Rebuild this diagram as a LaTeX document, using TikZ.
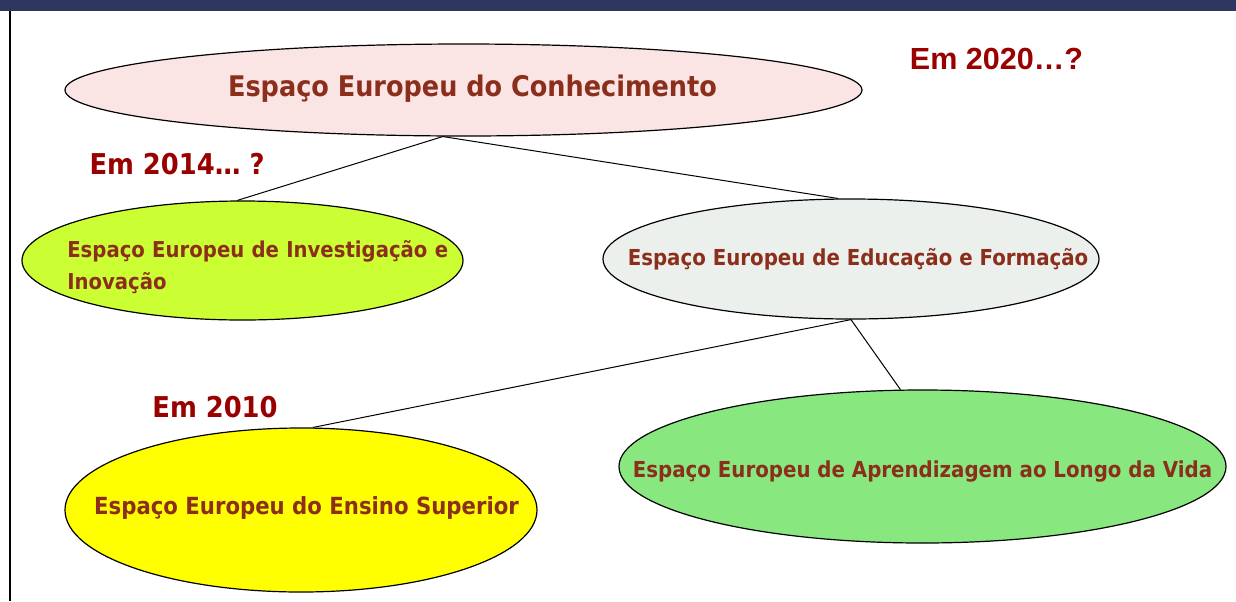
\documentclass[tikz,border=0pt]{standalone}
\usepackage{fontspec}
\setmainfont{DejaVu Sans}
\newfontfamily\tahoma{DejaVu Sans Condensed}
\newfontfamily\arialb{Liberation Sans}
\usetikzlibrary{shapes.geometric}
\definecolor{barblue}{HTML}{2E3760}
\definecolor{yearred}{HTML}{990000}
\definecolor{areared}{HTML}{8B2F1C}
\definecolor{conhecfill}{HTML}{FAE4E4}
\definecolor{investfill}{HTML}{CCFF33}
\definecolor{educfill}{HTML}{ECF0EC}
\definecolor{ensinofill}{HTML}{FFFF00}
\definecolor{aprendfill}{HTML}{89E77F}

\begin{document}
\begin{tikzpicture}[x=0.75pt, y=-0.75pt,
    area/.style={draw, ellipse, line width=0.9pt, inner sep=0pt},
    areatext/.style={text=areared, inner sep=0pt, anchor=base, font=\tahoma\bfseries\fontsize{16.5}{24}\selectfont},
    year/.style={text=yearred, inner sep=0pt, anchor=base, font=\tahoma\bfseries\fontsize{21.5}{26}\selectfont}]
    \useasboundingbox (0,0) rectangle (1236,601);
    \fill[barblue] (0,0) rectangle (1236,11);
    \draw[line width=2.2pt] (10,11) -- (10,601);

    \node[area, fill=conhecfill, minimum width=597.75pt, minimum height=69pt] (conhec) at (463.5,90) {};
    \node[area, fill=investfill, minimum width=330.75pt, minimum height=89.25pt] (invest) at (242.5,260.5) {};
    \node[area, fill=educfill, minimum width=372pt, minimum height=90pt] (educ) at (851,259) {};
    \node[area, fill=ensinofill, minimum width=354pt, minimum height=123pt] (ensino) at (301,510) {};
    \node[area, fill=aprendfill, minimum width=455.25pt, minimum height=114.75pt] (aprend) at (922.5,466.5) {};

    \node[areatext, font=\tahoma\bfseries\fontsize{21.3}{26}\selectfont] (conhec-t) at (472.5,96.5) {Espaço Europeu do Conhecimento};
    \node[areatext, anchor=base west, text width=330pt, align=left, font=\tahoma\bfseries\fontsize{16.4}{24}\selectfont] (invest-t) at (67,257) {Espaço Europeu de Investigação e\\Inovação};
    \node[areatext] (educ-t) at (858,265) {Espaço Europeu de Educação e Formação};
    \node[areatext, font=\tahoma\bfseries\fontsize{17.7}{24}\selectfont] (ensino-t) at (306.5,514) {Espaço Europeu do Ensino Superior};
    \node[areatext] (aprend-t) at (922.5,477) {Espaço Europeu de Aprendizagem ao Longo da Vida};

    \node[year, font=\arialb\bfseries\fontsize{22.9}{27}\selectfont] (yr2020) at (996.5,69) {Em 2020…?};
    \node[year] (yr2014) at (177,174) {Em 2014… ?};
    \node[year] (yr2010) at (215,417) {Em 2010};

    \draw[line width=0.75pt] (conhec.246) -- (invest.95);
    \draw[line width=0.75pt] (conhec.246) -- (educ.102);
    \draw[line width=0.75pt] (educ.270) -- (ensino.82);
    \draw[line width=0.75pt] (educ.270) -- (aprend.106);
\end{tikzpicture}
\end{document}
